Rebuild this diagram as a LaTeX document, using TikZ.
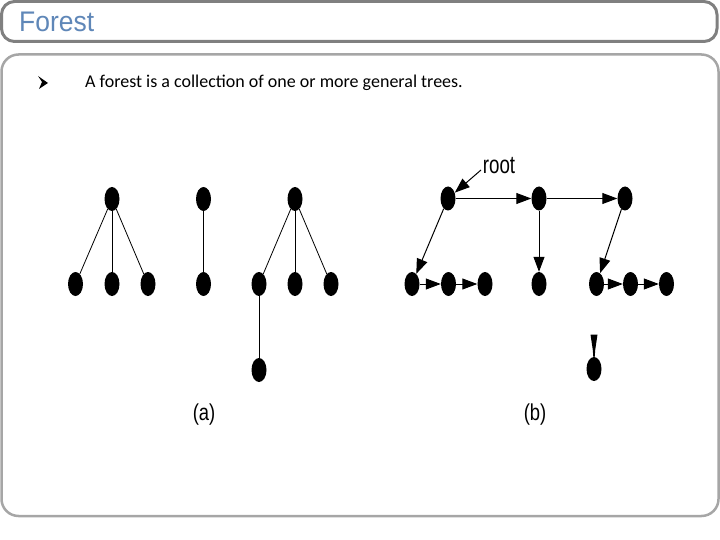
\documentclass[tikz,border=0pt]{standalone}
\usepackage{fontspec}
\setmainfont{Carlito}
\newfontfamily\lsans{Liberation Sans}
\usetikzlibrary{shapes.geometric,arrows.meta}
\definecolor{titleblue}{HTML}{5F87B8}
\definecolor{framedark}{HTML}{808080}
\definecolor{framelight}{HTML}{A6A6A6}
\tikzset{
  vtx/.style={ellipse,fill=black,draw=none,minimum width=15pt,minimum height=24pt,inner sep=0pt},
  edge/.style={line width=0.8pt},
  arr/.style={line width=1pt,-{Triangle[length=15pt,width=11pt]}},
  lab/.style={font=\lsans\fontsize{23}{23}\selectfont,inner sep=0pt}
}
\begin{document}
\begin{tikzpicture}[x=1pt,y=-1pt]
\useasboundingbox (0,0) rectangle (720,540);
% frames
\draw[framedark,line width=3pt,rounded corners=13pt] (1.5,1.5) rectangle (717,41.5);
\draw[framelight,line width=2.5pt,rounded corners=17pt] (1.5,54.5) rectangle (718.5,516);
% title
\node[anchor=base west,inner sep=0pt,text=titleblue,font=\lsans\fontsize{27}{27}\selectfont] (title) at (19,32) {\scalebox{0.98}[1.05]{Forest}};
% bullet
\fill[black] (38,76) -- (48,83) -- (39,89) -- (42,82) -- cycle;
\node[anchor=west,inner sep=0pt,font=\fontsize{18}{21}\selectfont] (txt) at (85,83) {A forest is a collection of one or more general trees.};
% (a)
\node[vtx] (a1) at (112,199) {};
\node[vtx] (a11) at (75.5,284) {};
\node[vtx] (a12) at (112,284) {};
\node[vtx] (a13) at (148,284) {};
\node[vtx] (a2) at (203.5,199) {};
\node[vtx] (a21) at (203.5,284) {};
\node[vtx] (a3) at (295,199) {};
\node[vtx] (a31) at (259,284) {};
\node[vtx] (a32) at (295,284) {};
\node[vtx] (a33) at (331,284) {};
\node[vtx] (a311) at (259,370) {};
\draw[edge] (a1) -- (a11);
\draw[edge] (a1) -- (a12);
\draw[edge] (a1) -- (a13);
\draw[edge] (a2) -- (a21);
\draw[edge] (a3) -- (a31);
\draw[edge] (a3) -- (a32);
\draw[edge] (a3) -- (a33);
\draw[edge] (a31) -- (a311);
\node[lab] (la) at (204,415) {\scalebox{0.8}[1]{(a)}};
% (b)
\node[vtx] (b1) at (448,198.5) {};
\node[vtx] (b2) at (539,198.5) {};
\node[vtx] (b3) at (625,198.5) {};
\node[vtx] (b11) at (412,284) {};
\node[vtx] (b12) at (448.5,284) {};
\node[vtx] (b13) at (485,284) {};
\node[vtx] (b21) at (539,284) {};
\node[vtx] (b31) at (596.5,284) {};
\node[vtx] (b32) at (630.5,284) {};
\node[vtx] (b33) at (666.5,284) {};
\node[vtx] (b311) at (594,369) {};
\draw[arr] (b1) -- (b2);
\draw[arr] (b2) -- (b3);
\draw[arr] (b1) -- (b11);
\draw[arr] (b2) -- (b21);
\draw[arr] (b3) -- (b31);
\draw[arr] (b11) -- (b12);
\draw[arr] (b12) -- (b13);
\draw[arr] (b31) -- (b32);
\draw[arr] (b32) -- (b33);
% clipped arrowhead above the lone node
\fill[black] (590.5,334.5) -- (597.5,334.5) -- (595.2,350) -- (594.6,358) -- (593.4,358) -- (592.8,350) -- cycle;
\node[lab,font=\lsans\fontsize{25}{25}\selectfont] (root) at (499,166) {\scalebox{0.75}[1]{root}};
\coordinate (rt) at (481,170);
\draw[arr] (rt) -- (b1);
\node[lab] (lb) at (535,415) {\scalebox{0.8}[1]{(b)}};
\end{tikzpicture}
\end{document}
